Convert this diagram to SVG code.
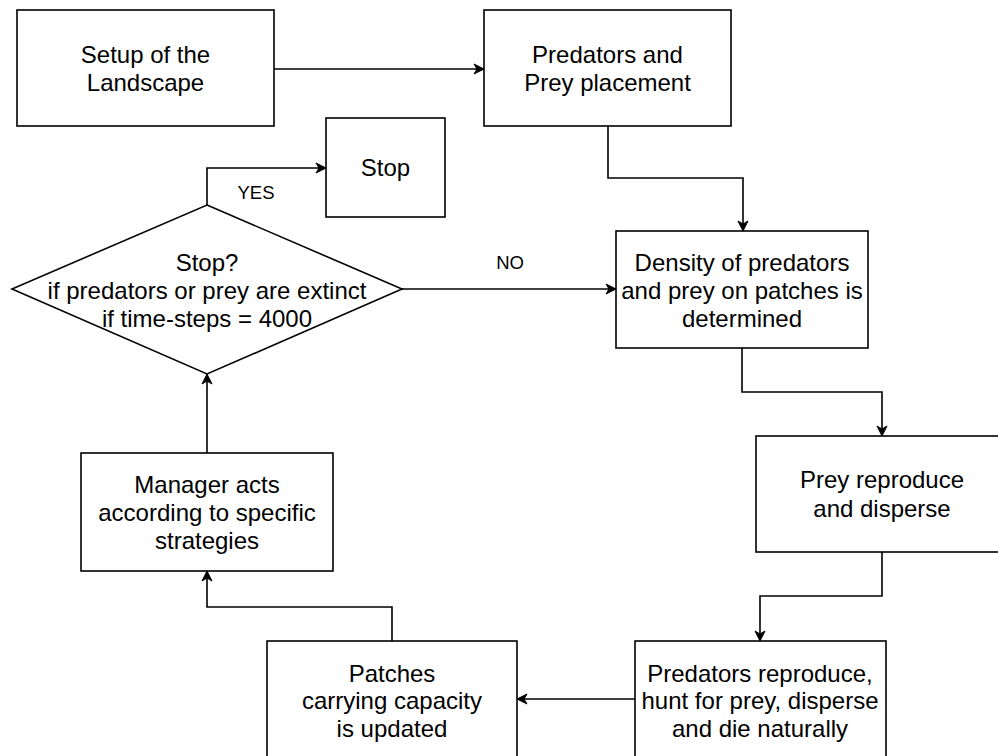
<svg xmlns="http://www.w3.org/2000/svg" width="998" height="756" viewBox="0 0 998 756">
<style>
.box{fill:#fff;stroke:#000;stroke-width:1.6}
.t{font-family:"Liberation Sans",Arial,sans-serif;font-size:24px;fill:#000;text-anchor:middle}
.lbl{font-family:"Liberation Sans",Arial,sans-serif;font-size:18.5px;fill:#000;text-anchor:middle}
.c{fill:none;stroke:#000;stroke-width:1.6;marker-end:url(#arr)}
</style>
<defs>
<marker id="arr" markerUnits="userSpaceOnUse" markerWidth="14" markerHeight="14" viewBox="0 0 14 14" refX="12" refY="7" orient="auto">
<path d="M2,2 L12,7 L2,12 L5,7 Z" fill="#000" stroke="#000" stroke-width="1" stroke-linejoin="miter"/>
</marker>
</defs>
<rect width="998" height="756" fill="#fff"/>
<g id="connectors">
<path class="c" d="M274,69 H484"/>
<path class="c" d="M608,126 V178 H743 V231"/>
<path class="c" d="M207,205 V168 H326"/>
<path class="c" d="M402,289 H616"/>
<path class="c" d="M742,348 V392 H882 V436"/>
<path class="c" d="M882,552 V596 H760 V641"/>
<path class="c" d="M635,699 H517"/>
<path class="c" d="M392,641 V607 H207 V571"/>
<path class="c" d="M207,453 V374"/>
<text class="lbl" x="256" y="199">YES</text>
<text class="lbl" x="510" y="269">NO</text>
</g>
<g id="setup">
<rect class="box" x="17" y="10" width="257" height="116"/>
<text class="t" x="145.5" y="63">Setup of the</text>
<text class="t" x="145.5" y="91">Landscape</text>
</g>
<g id="placement">
<rect class="box" x="484" y="10" width="247" height="116"/>
<text class="t" x="607.5" y="63">Predators and</text>
<text class="t" x="607.5" y="91">Prey placement</text>
</g>
<g id="stop">
<rect class="box" x="326" y="118" width="119" height="99"/>
<text class="t" x="385.5" y="176">Stop</text>
</g>
<g id="decision">
<polygon class="box" points="207,205 402,289 207,374 12,289"/>
<text class="t" x="207" y="271">Stop?</text>
<text class="t" x="207" y="299">if predators or prey are extinct</text>
<text class="t" x="207" y="327">if time-steps = 4000</text>
</g>
<g id="density">
<rect class="box" x="616" y="231" width="252" height="117"/>
<text class="t" x="742" y="271">Density of predators</text>
<text class="t" x="742" y="299">and prey on patches is</text>
<text class="t" x="742" y="327">determined</text>
</g>
<g id="prey">
<rect class="box" x="756" y="436" width="252" height="116"/>
<text class="t" x="882" y="488">Prey reproduce</text>
<text class="t" x="882" y="517">and disperse</text>
</g>
<g id="predators">
<rect class="box" x="635" y="641" width="251" height="117"/>
<text class="t" x="760" y="682">Predators reproduce,</text>
<text class="t" x="760" y="709">hunt for prey, disperse</text>
<text class="t" x="760" y="737">and die naturally</text>
</g>
<g id="patches">
<rect class="box" x="267" y="641" width="250" height="117"/>
<text class="t" x="392" y="682">Patches</text>
<text class="t" x="392" y="709">carrying capacity</text>
<text class="t" x="392" y="737">is updated</text>
</g>
<g id="manager">
<rect class="box" x="81" y="453" width="252" height="118"/>
<text class="t" x="207" y="493">Manager acts</text>
<text class="t" x="207" y="521">according to specific</text>
<text class="t" x="207" y="549">strategies</text>
</g>
</svg>
